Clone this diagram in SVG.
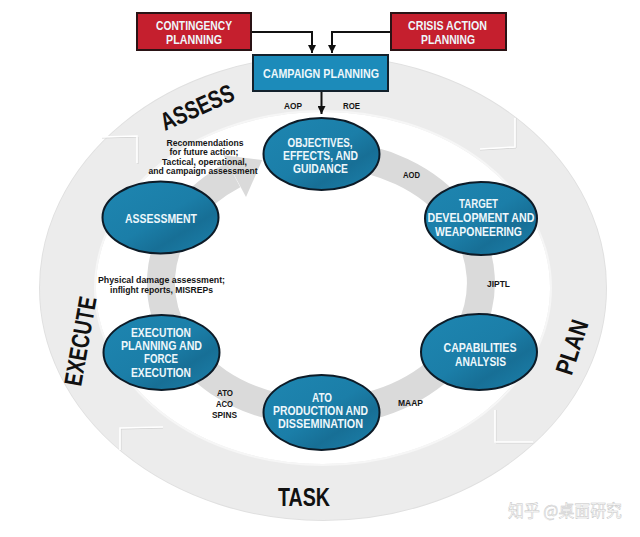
<svg xmlns="http://www.w3.org/2000/svg" width="640" height="537" viewBox="0 0 640 537">
<defs>
<style>
.f{font-family:"Liberation Sans",Arial,sans-serif;font-weight:bold;text-anchor:middle}
.tw{fill:#eef7fb;font-size:12.5px}
.lbl{fill:#141414;font-size:9.5px}
.ph{fill:#111;font-size:25px}
.ell{fill:url(#eg);stroke:#0d1b27;stroke-width:2}
.red{fill:#c51f2e;stroke:#2a1315;stroke-width:2}
.blue{fill:#1c8bba;stroke:#13212c;stroke-width:2}
.arr{fill:none;stroke:#111;stroke-width:2;marker-end:url(#ah)}
.chev{fill:none;stroke:#fff;stroke-width:1.6}
.chevs{fill:none;stroke:#d2d2d2;stroke-width:1}
</style>
<linearGradient id="eg" x1="0" y1="0" x2="1" y2="1">
<stop offset="0" stop-color="#1e86b1"/>
<stop offset="0.5" stop-color="#1b7ea8"/>
<stop offset="0.7" stop-color="#176f96"/>
<stop offset="1" stop-color="#1c82ad"/>
</linearGradient>
<marker id="ah" viewBox="0 0 10 10" refX="10" refY="5" markerWidth="8" markerHeight="8" markerUnits="userSpaceOnUse" orient="auto">
<path d="M0,0 L10,5 L0,10 z" fill="#111"/>
</marker>
</defs>
<rect width="640" height="537" fill="#fff"/>

<g id="outer-cycle">
<ellipse cx="323" cy="288" rx="283" ry="232" fill="none" stroke="#e0e0e0" stroke-width="2"/>
<ellipse cx="323" cy="288" rx="255" ry="204" fill="none" stroke="#ececec" stroke-width="56"/>
<ellipse cx="323" cy="288" rx="228" ry="177" fill="none" stroke="#f6f6f6" stroke-width="2"/>
<polyline class="chevs" points="102,138 138,137 138,164"/>
<polyline class="chev" points="102,137 137,136 137,163"/>
<polyline class="chevs" points="516,118 516,148 480,150"/>
<polyline class="chev" points="515,118 515,147 480,149"/>
<polyline class="chevs" points="496,410 496,443 533,443"/>
<polyline class="chev" points="495,410 495,442 533,442"/>
<polyline class="chevs" points="121,450 121,429 163,428"/>
<polyline class="chev" points="120,450 120,428 163,427"/>
<text class="f ph" transform="translate(197,107) rotate(-24)" y="9" textLength="78" lengthAdjust="spacingAndGlyphs">ASSESS</text>
<text class="f ph" transform="translate(572,347) rotate(-72)" y="8.5" font-size="24" textLength="56" lengthAdjust="spacingAndGlyphs">PLAN</text>
<text class="f ph" x="304" y="506" textLength="52" lengthAdjust="spacingAndGlyphs">TASK</text>
<text class="f ph" transform="translate(80,341) rotate(-80)" y="9" textLength="90" lengthAdjust="spacingAndGlyphs">EXECUTE</text>
</g>

<g id="connectors">
<path d="M335,154.5 A160,129 0 1 1 233.8,174.8" fill="none" stroke="#dadada" stroke-width="28"/>
<polygon points="223.6,155.3 262.2,160 246,197" fill="#dadada"/>
<path class="arr" d="M251,32 H312 V53"/>
<path class="arr" d="M391,32 H332 V53"/>
<path class="arr" d="M321.5,91 V114"/>
</g>

<g id="labels">
<text class="f lbl" x="293" y="108.5" textLength="18" lengthAdjust="spacingAndGlyphs">AOP</text>
<text class="f lbl" x="351.5" y="108.5" textLength="17" lengthAdjust="spacingAndGlyphs">ROE</text>
<text class="f lbl" x="205" y="145.5" textLength="77" lengthAdjust="spacingAndGlyphs">Recommendations</text>
<text class="f lbl" x="204" y="155" textLength="69" lengthAdjust="spacingAndGlyphs">for future action;</text>
<text class="f lbl" x="204.5" y="164.5" textLength="85" lengthAdjust="spacingAndGlyphs">Tactical, operational,</text>
<text class="f lbl" x="203" y="174" textLength="109" lengthAdjust="spacingAndGlyphs">and campaign assessment</text>
<text class="f lbl" x="411.5" y="177.5" textLength="17" lengthAdjust="spacingAndGlyphs">AOD</text>
<text class="f lbl" x="498.5" y="286.5" textLength="23" lengthAdjust="spacingAndGlyphs">JIPTL</text>
<text class="f lbl" x="410.5" y="405.5" textLength="25" lengthAdjust="spacingAndGlyphs">MAAP</text>
<text class="f lbl" x="225" y="395.5" textLength="16" lengthAdjust="spacingAndGlyphs">ATO</text>
<text class="f lbl" x="224.5" y="406.5" textLength="17" lengthAdjust="spacingAndGlyphs">ACO</text>
<text class="f lbl" x="224.5" y="417.5" textLength="25" lengthAdjust="spacingAndGlyphs">SPINS</text>
<text class="f lbl" x="161.5" y="282.5" textLength="127" lengthAdjust="spacingAndGlyphs">Physical damage assessment;</text>
<text class="f lbl" x="161.5" y="292.5" textLength="103" lengthAdjust="spacingAndGlyphs">inflight reports, MISREPs</text>
</g>

<g id="contingency-planning">
<rect class="red" x="137" y="13" width="114" height="37"/>
<text class="f tw" x="194" y="29.5" textLength="76" lengthAdjust="spacingAndGlyphs">CONTINGENCY</text>
<text class="f tw" x="194" y="43.5" textLength="56" lengthAdjust="spacingAndGlyphs">PLANNING</text>
</g>
<g id="crisis-action-planning">
<rect class="red" x="391" y="13" width="115" height="37"/>
<text class="f tw" x="447.5" y="29.5" textLength="79" lengthAdjust="spacingAndGlyphs">CRISIS ACTION</text>
<text class="f tw" x="448" y="43.5" textLength="54" lengthAdjust="spacingAndGlyphs">PLANNING</text>
</g>
<g id="campaign-planning">
<rect class="blue" x="253" y="55" width="135" height="36"/>
<text class="f tw" x="321" y="77.5" textLength="116" lengthAdjust="spacingAndGlyphs">CAMPAIGN PLANNING</text>
</g>

<g id="objectives">
<ellipse class="ell" cx="321.5" cy="154" rx="58" ry="36"/>
<text class="f tw" x="320" y="146.5" textLength="65" lengthAdjust="spacingAndGlyphs">OBJECTIVES,</text>
<text class="f tw" x="320.5" y="159.5" textLength="75" lengthAdjust="spacingAndGlyphs">EFFECTS, AND</text>
<text class="f tw" x="320.5" y="172.5" textLength="55" lengthAdjust="spacingAndGlyphs">GUIDANCE</text>
</g>
<g id="target-development">
<ellipse class="ell" cx="481" cy="218.5" rx="56" ry="36.5"/>
<text class="f tw" x="478.5" y="207.5" textLength="39" lengthAdjust="spacingAndGlyphs">TARGET</text>
<text class="f tw" x="481" y="221.5" textLength="107" lengthAdjust="spacingAndGlyphs">DEVELOPMENT AND</text>
<text class="f tw" x="478.5" y="235.5" textLength="87" lengthAdjust="spacingAndGlyphs">WEAPONEERING</text>
</g>
<g id="capabilities-analysis">
<ellipse class="ell" cx="479" cy="352" rx="58" ry="38"/>
<text class="f tw" x="480" y="351.5" textLength="73" lengthAdjust="spacingAndGlyphs">CAPABILITIES</text>
<text class="f tw" x="480.5" y="365.5" textLength="51" lengthAdjust="spacingAndGlyphs">ANALYSIS</text>
</g>
<g id="ato-production">
<ellipse class="ell" cx="321.5" cy="412.5" rx="58" ry="37.5"/>
<text class="f tw" x="322" y="401.5" textLength="20" lengthAdjust="spacingAndGlyphs">ATO</text>
<text class="f tw" x="320.5" y="414.5" textLength="95" lengthAdjust="spacingAndGlyphs">PRODUCTION AND</text>
<text class="f tw" x="320.5" y="427.5" textLength="85" lengthAdjust="spacingAndGlyphs">DISSEMINATION</text>
</g>
<g id="execution-planning">
<ellipse class="ell" cx="161.5" cy="352.5" rx="58" ry="37.5"/>
<text class="f tw" x="161" y="336.5" textLength="60" lengthAdjust="spacingAndGlyphs">EXECUTION</text>
<text class="f tw" x="161.5" y="349.5" textLength="81" lengthAdjust="spacingAndGlyphs">PLANNING AND</text>
<text class="f tw" x="161" y="362.5" textLength="34" lengthAdjust="spacingAndGlyphs">FORCE</text>
<text class="f tw" x="161" y="376.5" textLength="60" lengthAdjust="spacingAndGlyphs">EXECUTION</text>
</g>
<g id="assessment">
<ellipse class="ell" cx="160.5" cy="217.5" rx="58" ry="36"/>
<text class="f tw" x="161" y="222.5" textLength="72" lengthAdjust="spacingAndGlyphs">ASSESSMENT</text>
</g>

<text x="508" y="517" font-family="'Noto Sans CJK SC',sans-serif" font-size="17" fill="#fff" stroke="#c4c4c4" stroke-width="0.5" textLength="114" lengthAdjust="spacingAndGlyphs">知乎 @桌面研究</text>
</svg>
